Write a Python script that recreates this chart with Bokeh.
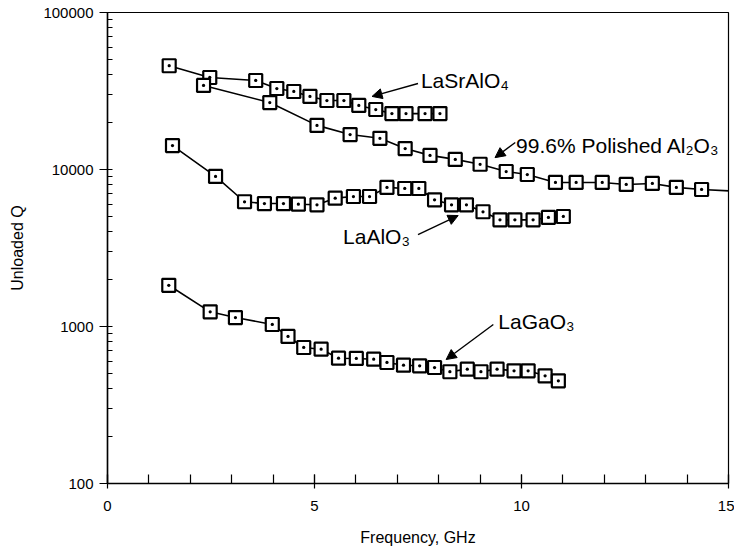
from bokeh.plotting import figure
from bokeh.models import (Range1d, SingleIntervalTicker, LogTicker, NumeralTickFormatter,
                          Arrow, NormalHead, Label)
from bokeh.embed import file_html
from bokeh.resources import INLINE

# ---- data ----
srl_x = [1.49, 2.47, 3.58, 4.09, 4.50, 4.89, 5.30, 5.71, 6.07, 6.48, 6.87, 7.21, 7.67, 8.03]
srl_q = [45800, 38550, 36900, 32800, 31400, 29200, 27500, 27500, 25600, 24100, 22700, 22700, 22700, 22700]

alo_x = [2.32, 3.92, 5.06, 5.86, 6.58, 7.19, 7.79, 8.40, 9.00, 9.63, 10.14, 10.82, 11.32,
         11.95, 12.53, 13.16, 13.74, 14.35]
alo_q = [34300, 26700, 19100, 16700, 15800, 13600, 12300, 11600, 10800, 9710, 9290, 8270, 8270,
         8270, 8030, 8150, 7690, 7460]
alo_tail_x = [14.35, 15.3]
alo_tail_q = [7460, 7250]

laa_x = [1.57, 2.61, 3.31, 3.79, 4.25, 4.61, 5.06, 5.50, 5.94, 6.33, 6.75, 7.18, 7.52, 7.90,
         8.31, 8.67, 9.07, 9.48, 9.84, 10.28, 10.65, 11.01]
laa_q = [14200, 9030, 6230, 6070, 6070, 6010, 5960, 6570, 6730, 6730, 7690, 7570, 7570, 6410,
         5960, 5960, 5380, 4780, 4780, 4780, 4950, 5020]

lag_x = [1.48, 2.48, 3.09, 3.98, 4.36, 4.74, 5.16, 5.58, 6.01, 6.43, 6.75, 7.15, 7.54, 7.90,
         8.27, 8.69, 9.02, 9.41, 9.82, 10.16, 10.57, 10.89]
lag_q = [1830, 1240, 1140, 1030, 864, 735, 717, 628, 626, 619, 590, 567, 562, 548,
         515, 535, 515, 535, 522, 522, 485, 451]

labels = ["LaSrAlO\u2084", "99.6% Polished Al\u2082O\u2083", "LaAlO\u2083", "LaGaO\u2083"]
label_x = [7.57, 9.87, 5.69, 9.44]
label_q = [36900, 14200, 3740, 1076]
arrow_tail_x = [7.50, 9.85, 7.50, 9.32]
arrow_tail_q = [35300, 14860, 3850, 1030]
arrow_head_x = [6.39, 9.36, 8.47, 8.18]
arrow_head_q = [29200, 11900, 5090, 616]

x_ticks_interval = 5
FONT = "Liberation Sans"

p = figure(frame_width=621, frame_height=471, y_axis_type="log",
           x_range=Range1d(0, 15), y_range=Range1d(100, 100000),
           output_backend="svg", toolbar_location=None,
           min_border_left=107, min_border_top=12, min_border_right=6, min_border_bottom=69,
           background_fill_color="white", border_fill_color="white")

p.grid.visible = False
p.outline_line_color = "black"
p.outline_line_width = 1.2

p.xaxis.ticker = SingleIntervalTicker(interval=x_ticks_interval, num_minor_ticks=5)
p.yaxis.ticker = LogTicker(num_minor_ticks=10)
p.yaxis.formatter = NumeralTickFormatter(format="0")

for ax in (p.xaxis, p.yaxis):
    ax.axis_line_color = "black"
    ax.axis_line_width = 1.5
    ax.major_tick_line_color = "black"
    ax.minor_tick_line_color = "black"
    ax.major_tick_line_width = 1.2
    ax.minor_tick_line_width = 1.2
    ax.major_label_text_font = FONT
    ax.major_label_text_font_size = "15px"
    ax.major_label_text_color = "black"
    ax.axis_label_text_font = FONT
    ax.axis_label_text_font_size = "16px"
    ax.axis_label_text_font_style = "normal"
    ax.axis_label_text_color = "black"

p.xaxis.major_tick_in = 9
p.xaxis.major_tick_out = 5
p.xaxis.minor_tick_in = 9
p.xaxis.minor_tick_out = 0
p.yaxis.major_tick_in = 0
p.yaxis.major_tick_out = 8
p.yaxis.minor_tick_in = 5
p.yaxis.minor_tick_out = 0
p.xaxis.major_label_standoff = 12
p.yaxis.major_label_standoff = 6

p.xaxis.axis_label = "Frequency, GHz"
p.yaxis.axis_label = "Unloaded Q"
p.xaxis.axis_label_standoff = 15
p.yaxis.axis_label_standoff = 14

series = [(srl_x, srl_q), (alo_x, alo_q), (laa_x, laa_q), (lag_x, lag_q)]
p.line(alo_tail_x, alo_tail_q, line_color="black", line_width=1.6)
for xs, qs in series:
    p.line(xs, qs, line_color="black", line_width=1.6)
for xs, qs in series:
    p.scatter(xs, qs, marker="square_dot", size=13, line_color="black", line_width=2.2,
              fill_color="white")

for txt, lx, lq in zip(labels, label_x, label_q):
    p.add_layout(Label(x=lx, y=lq, text=txt, text_font=FONT, text_font_size="21px",
                       text_color="black", text_baseline="middle", text_align="left"))

for tx, tq, hx, hq in zip(arrow_tail_x, arrow_tail_q, arrow_head_x, arrow_head_q):
    p.add_layout(Arrow(x_start=tx, y_start=tq, x_end=hx, y_end=hq, line_color="black",
                       line_width=1.4,
                       end=NormalHead(size=10, fill_color="black", line_color="black")))

open("out.html", "w").write(file_html(p, INLINE))
